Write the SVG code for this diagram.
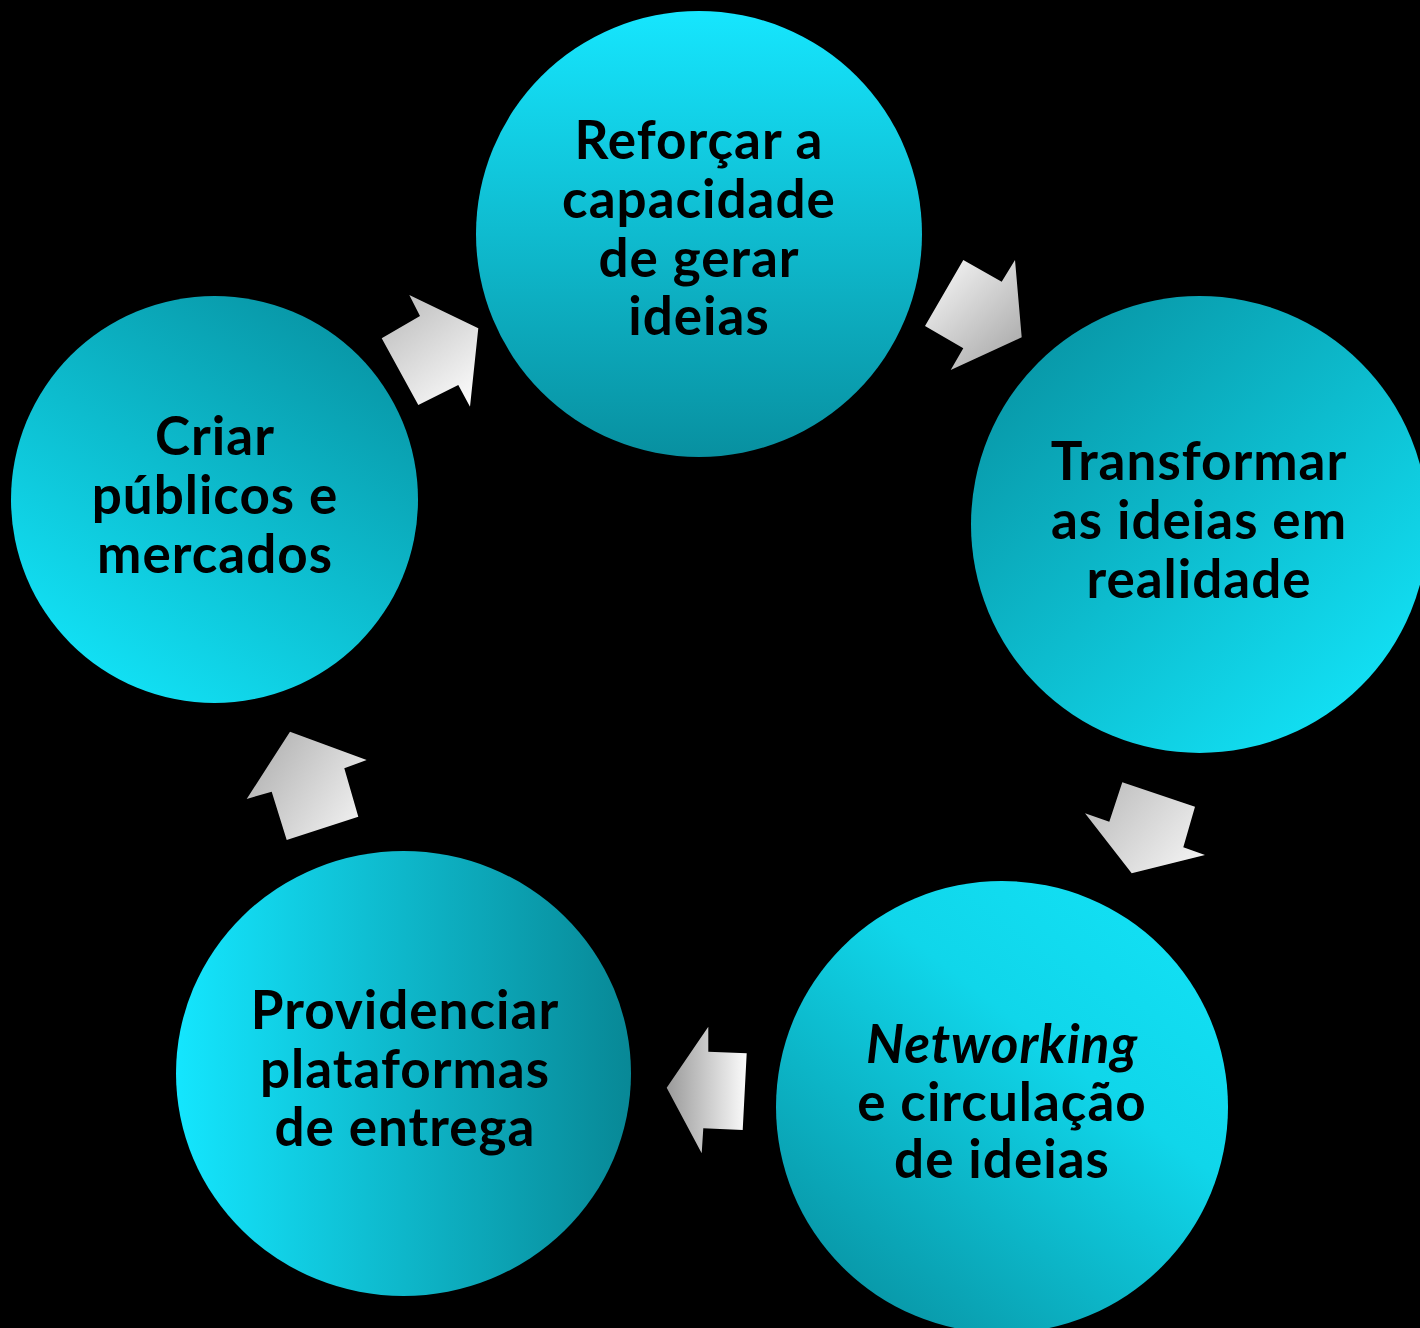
<svg xmlns="http://www.w3.org/2000/svg" width="1420" height="1328" viewBox="0 0 1420 1328">
<defs>
<linearGradient id="g1" x1="0" y1="0" x2="0" y2="1"><stop offset="0" stop-color="#16e6fe"/><stop offset="1" stop-color="#0890a0"/></linearGradient>
<linearGradient id="g2" x1="0.15" y1="0.1" x2="0.85" y2="0.9"><stop offset="0" stop-color="#0898a8"/><stop offset="1" stop-color="#12e0f4"/></linearGradient>
<linearGradient id="g3" x1="0.85" y1="0.05" x2="0.15" y2="0.95"><stop offset="0" stop-color="#12e0f4"/><stop offset="0.35" stop-color="#10d6ea"/><stop offset="1" stop-color="#0894a4"/></linearGradient>
<linearGradient id="g4" x1="0" y1="0" x2="1" y2="0"><stop offset="0" stop-color="#14e6fe"/><stop offset="1" stop-color="#088896"/></linearGradient>
<linearGradient id="g5" x1="0.2" y1="0.95" x2="0.8" y2="0.05"><stop offset="0" stop-color="#12e2f6"/><stop offset="1" stop-color="#0896a6"/></linearGradient>
<linearGradient id="a1" gradientUnits="userSpaceOnUse" x1="940" y1="280" x2="1015" y2="360"><stop offset="0" stop-color="#ececec"/><stop offset="1" stop-color="#a9a9a9"/></linearGradient>
<linearGradient id="a2" gradientUnits="userSpaceOnUse" x1="1095" y1="790" x2="1190" y2="870"><stop offset="0" stop-color="#bdbdbd"/><stop offset="1" stop-color="#f2f2f2"/></linearGradient>
<linearGradient id="a3" gradientUnits="userSpaceOnUse" x1="667" y1="0" x2="746" y2="0"><stop offset="0" stop-color="#9a9a9a"/><stop offset="1" stop-color="#fafafa"/></linearGradient>
<linearGradient id="a4" gradientUnits="userSpaceOnUse" x1="255" y1="760" x2="360" y2="830"><stop offset="0" stop-color="#b5b5b5"/><stop offset="1" stop-color="#f2f2f2"/></linearGradient>
<linearGradient id="a5" gradientUnits="userSpaceOnUse" x1="395" y1="305" x2="470" y2="400"><stop offset="0" stop-color="#c0c0c0"/><stop offset="1" stop-color="#fafafa"/></linearGradient>
</defs>
<style>
.lbl{font-family:Lato,"Open Sans","Liberation Sans",sans-serif;font-weight:700;font-size:53px;letter-spacing:1px;fill:#000;text-anchor:middle}
.it{font-style:italic}
</style>
<rect width="1420" height="1328" fill="#000"/>
<g id="connectors">
<polygon points="963.3,260 1001.7,281.7 1015,260 1021.7,337.3 950.7,370 963.3,348.3 925,326" fill="url(#a1)"/>
<polygon points="1122.3,782.3 1195,806.7 1183.3,847.3 1205,855 1131.7,873.3 1085,813.3 1109.3,821.7" fill="url(#a2)"/>
<polygon points="708.3,1026.7 708.3,1051.7 746.7,1053.3 742.7,1130 703.3,1128.3 701.7,1153.3 666.7,1087.7" fill="url(#a3)"/>
<polygon points="290,731.7 366.7,760 344.3,768.3 358.3,816.7 286.7,840 271.7,791.7 246.7,799" fill="url(#a4)"/>
<polygon points="409.3,295 420,316 381.7,338.3 418.3,405 458.3,385 470,406.7 478.3,328.3" fill="url(#a5)"/>
</g>
<g id="node1">
<circle cx="699" cy="234" r="223" fill="url(#g1)"/>
<text class="lbl"><tspan x="699" y="159">Reforçar a</tspan><tspan x="699" y="218">capacidade</tspan><tspan x="699" y="277">de gerar</tspan><tspan x="699" y="335">ideias</tspan></text>
</g>
<g id="node2">
<circle cx="1199.5" cy="524.5" r="228.5" fill="url(#g2)"/>
<text class="lbl"><tspan x="1199" y="480">Transformar</tspan><tspan x="1199" y="538.5">as ideias em</tspan><tspan x="1199" y="597.5">realidade</tspan></text>
</g>
<g id="node3">
<circle cx="1002" cy="1107" r="226" fill="url(#g3)"/>
<text class="lbl"><tspan class="it" x="1002" y="1062.5">Networking</tspan><tspan x="1002" y="1120.5">e circulação</tspan><tspan x="1002" y="1178">de ideias</tspan></text>
</g>
<g id="node4">
<ellipse cx="403.5" cy="1073.5" rx="227.5" ry="222.5" fill="url(#g4)"/>
<text class="lbl"><tspan x="405" y="1028.5">Providenciar</tspan><tspan x="405" y="1087.5">plataformas</tspan><tspan x="405" y="1146">de entrega</tspan></text>
</g>
<g id="node5">
<circle cx="214.5" cy="499.5" r="203.5" fill="url(#g5)"/>
<text class="lbl"><tspan x="215" y="455">Criar</tspan><tspan x="215" y="513.5">públicos e</tspan><tspan x="215" y="572.5">mercados</tspan></text>
</g>
</svg>
